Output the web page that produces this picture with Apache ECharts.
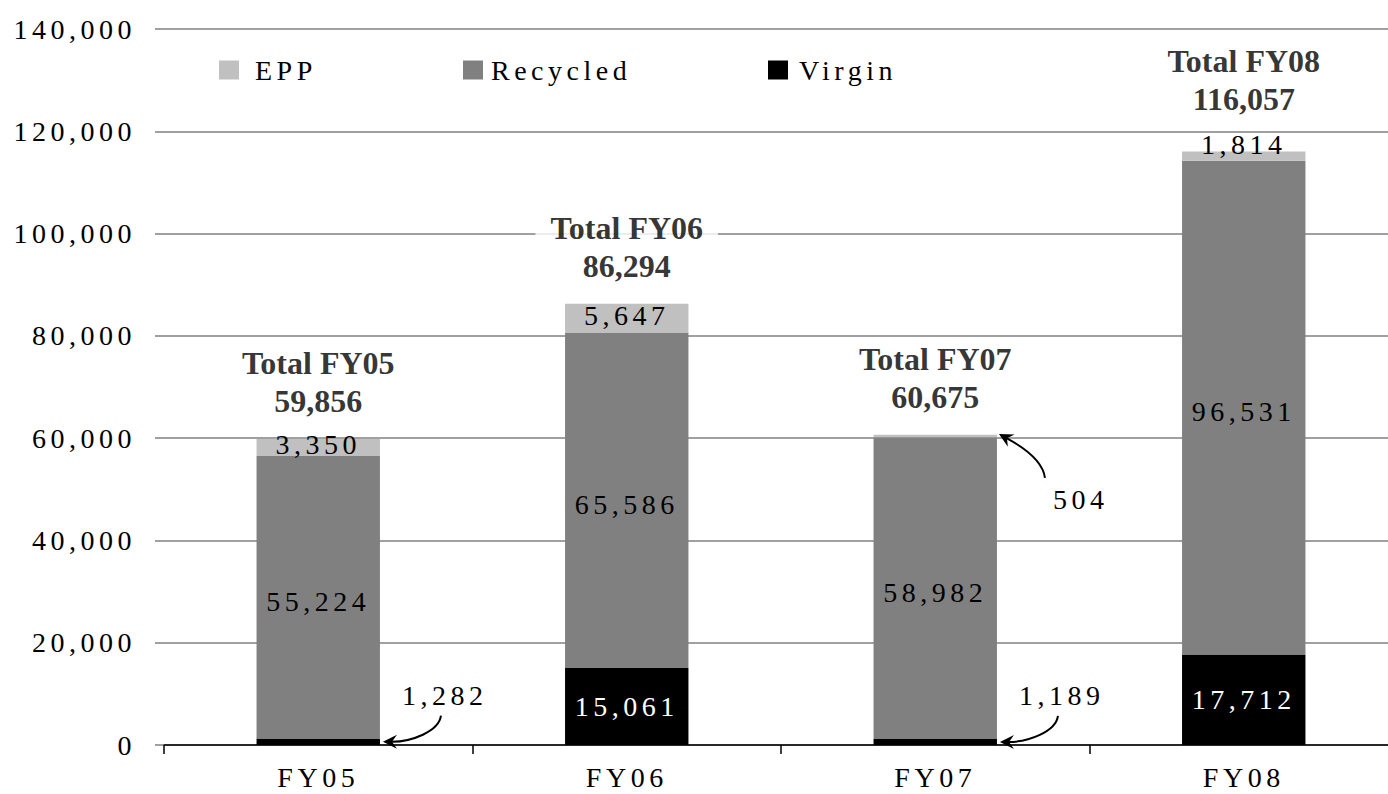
<!DOCTYPE html>
<html>
<head>
<meta charset="utf-8">
<title>EPP / Recycled / Virgin FY05-FY08</title>
<script src="https://cdn.jsdelivr.net/npm/echarts@6.0.0/dist/echarts.min.js"></script>
<style>
  html, body { margin: 0; padding: 0; background: #fff; }
  #chart { width: 1388px; height: 794px; }
  /* the original uses widely spaced serif figures */
  #chart text { letter-spacing: 4.5px; }
  #chart text[style*="bold"], #chart text[font-weight="bold"] { letter-spacing: 0; }
</style>
</head>
<body>
<div id="chart"></div>
<script>
var categories = ["FY05", "FY06", "FY07", "FY08"];
var virgin = [1282, 15061, 1189, 17712];
var recycled = [55224, 65586, 58982, 96531];
var epp = [3350, 5647, 504, 1814];
var yMin = 0;
var yMax = 140000;
var yStep = 20000;

var FONT = "Liberation Serif";
var fmt = function (v) { return Number(v).toLocaleString("en-US"); };

var totals = categories.map(function (c, i) {
  return virgin[i] + recycled[i] + epp[i];
});

var chart = echarts.init(document.getElementById("chart"), null, { renderer: "svg" });

// plain label style
var lbl = { fontFamily: FONT, fontSize: 28, color: "#000" };

// curved call-out arrows: [category, value the arrow points at]
var arrowTargets = [
  [0, virgin[0] / 2],
  [2, virgin[2] / 2],
  [2, totals[2] - epp[2] / 2]
];

function renderArrow(params, api) {
  var i = params.dataIndex;
  var p = api.coord([api.value(0), api.value(1)]);
  var half = api.size([1, 0])[0] * 0.2;
  var tip = [p[0] + half + 3, p[1]];
  var start, c1, c2;
  if (i < 2) {
    // from the label above-right, down and then left into the bar
    start = [tip[0] + 58, tip[1] - 26];
    c1 = [start[0] - 2, start[1] + 16];
    c2 = [tip[0] + 28, tip[1]];
  } else {
    // from the label below-right, up and then left into the bar top
    tip = [tip[0] - 1, tip[1] - 2];
    start = [tip[0] + 46, tip[1] + 44];
    c1 = [start[0] - 2, start[1] - 18];
    c2 = [tip[0] + 22, tip[1] + 12];
  }
  var dx = tip[0] - c2[0], dy = tip[1] - c2[1];
  var len = Math.sqrt(dx * dx + dy * dy);
  dx /= len; dy /= len;
  var L = 14, W = 7;
  var back = [tip[0] - dx * L, tip[1] - dy * L];
  var notch = [tip[0] - dx * L * 0.65, tip[1] - dy * L * 0.65];
  return {
    type: "group",
    children: [
      {
        type: "bezierCurve",
        shape: {
          x1: start[0], y1: start[1],
          cpx1: c1[0], cpy1: c1[1],
          cpx2: c2[0], cpy2: c2[1],
          x2: notch[0], y2: notch[1]
        },
        style: { stroke: "#000", lineWidth: 2, fill: null }
      },
      {
        type: "polygon",
        shape: {
          points: [
            tip,
            [back[0] - dy * W, back[1] + dx * W],
            notch,
            [back[0] + dy * W, back[1] - dx * W]
          ]
        },
        style: { fill: "#000" }
      }
    ]
  };
}

var option = {
  animation: false,
  backgroundColor: "#fff",
  grid: {
    left: 164,
    right: -10,
    top: 29,
    bottom: 49,
    containLabel: false,
    outerBoundsMode: "none"
  },
  legend: [
    {
      data: ["EPP"], left: 219, top: 56, padding: 0, icon: "rect",
      itemWidth: 20, itemHeight: 19, selectedMode: false,
      textStyle: { fontFamily: FONT, fontSize: 28, color: "#000", padding: [0, 0, 0, 11] }
    },
    {
      data: ["Recycled"], left: 463, top: 56, padding: 0, icon: "rect",
      itemWidth: 20, itemHeight: 19, selectedMode: false,
      textStyle: { fontFamily: FONT, fontSize: 28, color: "#000", padding: [0, 0, 0, 3] }
    },
    {
      data: ["Virgin"], left: 768, top: 56, padding: 0, icon: "rect",
      itemWidth: 20, itemHeight: 19, selectedMode: false,
      textStyle: { fontFamily: FONT, fontSize: 28, color: "#000", padding: [0, 0, 0, 6] }
    }
  ],
  xAxis: {
    type: "category",
    data: categories,
    axisLine: { lineStyle: { color: "#000", width: 1.5 } },
    axisTick: { show: true, length: 9, lineStyle: { color: "#000", width: 1.5 } },
    axisLabel: { margin: 18, fontFamily: FONT, fontSize: 28, color: "#000" }
  },
  yAxis: {
    type: "value",
    min: yMin,
    max: yMax,
    interval: yStep,
    axisLine: { show: false },
    axisTick: { show: true, length: 9, lineStyle: { color: "#808080", width: 1.5 } },
    splitLine: { show: true, lineStyle: { color: "#808080", width: 1.5 } },
    axisLabel: { margin: 28, fontFamily: FONT, fontSize: 28, color: "#000", formatter: fmt }
  },
  series: [
    {
      name: "Virgin",
      type: "bar",
      stack: "all",
      barWidth: "40%",
      itemStyle: { color: "#000" },
      label: Object.assign({ show: true, position: "inside", formatter: function (p) { return fmt(p.value); } }, lbl, { color: "#fff" }),
      data: virgin.map(function (v) {
        // thin segments get their number outside, with an arrow
        if (v < 3000) {
          return { value: v, label: { position: "right", distance: 22, offset: [0, -46], color: "#000" } };
        }
        return v;
      })
    },
    {
      name: "Recycled",
      type: "bar",
      stack: "all",
      itemStyle: { color: "#808080" },
      label: Object.assign({ show: true, position: "inside", offset: [0, 4], formatter: function (p) { return fmt(p.value); } }, lbl),
      data: recycled
    },
    {
      name: "EPP",
      type: "bar",
      stack: "all",
      itemStyle: { color: "#c0c0c0" },
      label: Object.assign({ show: true, position: "inside", formatter: function (p) { return fmt(p.value); } }, lbl),
      data: epp.map(function (v) {
        if (v < 1000) {
          return { value: v, label: { position: "right", distance: 56, offset: [0, 64] } };
        }
        if (v < 3000) {
          return { value: v, label: { offset: [0, -12] } };
        }
        return { value: v, label: { offset: [0, -3] } };
      })
    },
    {
      name: "Total",
      type: "scatter",
      symbolSize: 1,
      silent: true,
      z: 5,
      itemStyle: { color: "rgba(0,0,0,0)" },
      label: {
        show: true,
        position: "top",
        distance: 18,
        fontFamily: FONT,
        fontWeight: "bold",
        fontSize: 32,
        lineHeight: 38,
        color: "#000",
        backgroundColor: "#fff",
        padding: [0, 15],
        formatter: function (p) {
          return "Total " + categories[p.dataIndex] + "\n" + fmt(p.value);
        }
      },
      data: totals.map(function (v, i) {
        // the FY08 total sits higher, above the 1,814 label
        return i === 3 ? { value: v, label: { distance: 33 } } : v;
      })
    },
    {
      name: "arrows",
      type: "custom",
      silent: true,
      z: 6,
      renderItem: renderArrow,
      data: arrowTargets
    }
  ]
};

chart.setOption(option);
</script>
</body>
</html>
